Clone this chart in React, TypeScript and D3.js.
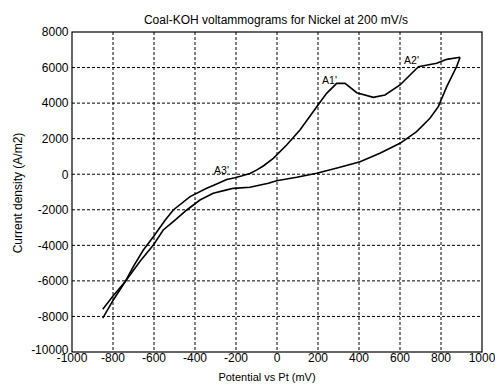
import React from "react";
import * as d3 from "d3";

const forwardV = [-850, -800, -741, -701, -652, -603, -545, -506, -424, -343, -300, -245, -205, -170, -132, -100, -67, -18, 47, 112, 194, 242, 291, 332, 389, 470, 527, 600, 649, 690, 779, 828, 893];
const forwardI = [-8100, -7100, -6050, -5200, -4262, -3512, -2575, -2012, -1262, -794, -580, -300, -195, -90, 40, 230, 462, 896, 1644, 2487, 3798, 4550, 5112, 5112, 4587, 4325, 4456, 5019, 5581, 6050, 6237, 6462, 6575];
const reverseV = [893, 876, 828, 787, 746, 681, 600, 502, 405, 307, 194, 96, -2, -42, -132, -213, -245, -311, -376, -440, -506, -555, -603, -668, -741, -800, -850];
const reverseI = [6575, 6050, 4925, 3800, 3144, 2394, 1739, 1176, 704, 389, 51, -175, -362, -512, -737, -794, -880, -1074, -1450, -2012, -2669, -3137, -3981, -4900, -6050, -6850, -7600];
const xTicks = [-1000, -800, -600, -400, -200, 0, 200, 400, 600, 800, 1000];
const yTicks = [-10000, -8000, -6000, -4000, -2000, 0, 2000, 4000, 6000, 8000];
const labels = [
  { text: "A1'", v: 220, i: 5075 },
  { text: "A2'", v: 620, i: 6228 },
  { text: "A3'", v: -307, i: 40 },
];

export default function App() {
  const W = 495, H = 385;
  const L = 72, R = 482, T = 32, B = 352;
  const x = d3.scaleLinear().domain([-1000, 1000]).range([L, R]);
  const y = d3.scaleLinear().domain([-10000, 8000]).range([B, T]);
  const line = d3.line<[number, number]>().x(d => x(d[0])).y(d => y(d[1]));
  const fwd = forwardV.map((v, k) => [v, forwardI[k]] as [number, number]);
  const rev = reverseV.map((v, k) => [v, reverseI[k]] as [number, number]);
  const font = "Liberation Sans, Arial, sans-serif";
  return (
    <svg width={W} height={H} style={{ position: "absolute", left: 0, top: 0, background: "#fff" }} fontFamily={font}>
      <rect x={0} y={0} width={W} height={H} fill="#fff" />
      {xTicks.slice(1, -1).map(t => (
        <line key={"gx" + t} x1={x(t)} x2={x(t)} y1={T} y2={B} stroke="#000" strokeWidth={1} strokeDasharray="3,2" />
      ))}
      {yTicks.slice(1, -1).map(t => (
        <line key={"gy" + t} x1={L} x2={R} y1={y(t)} y2={y(t)} stroke="#000" strokeWidth={1} strokeDasharray="3,2" />
      ))}
      <rect x={L} y={T} width={R - L} height={B - T} fill="none" stroke="#000" strokeWidth={1.2} />
      {xTicks.map(t => (
        <text key={"tx" + t} x={x(t)} y={B + 10} fontSize={12} textAnchor="middle">{t}</text>
      ))}
      {yTicks.map(t => (
        <text key={"ty" + t} x={L - 3.5} y={y(t) + (t === -10000 ? 1.5 : 4.3)} fontSize={12} textAnchor="end">{t}</text>
      ))}
      <path d={line(fwd) || ""} fill="none" stroke="#000" strokeWidth={1.6} />
      <path d={line(rev) || ""} fill="none" stroke="#000" strokeWidth={1.6} />
      {labels.map(l => (
        <text key={l.text} x={x(l.v)} y={y(l.i)} fontSize={10.5}>{l.text}</text>
      ))}
      <text x={276} y={23.5} fontSize={12} textAnchor="middle">Coal-KOH voltammograms for Nickel at 200 mV/s</text>
      <text x={267} y={381} fontSize={11} textAnchor="middle">Potential vs Pt (mV)</text>
      <text transform={`translate(22,193) rotate(-90)`} fontSize={12} textAnchor="middle">Current density (A/m2)</text>
    </svg>
  );
}
